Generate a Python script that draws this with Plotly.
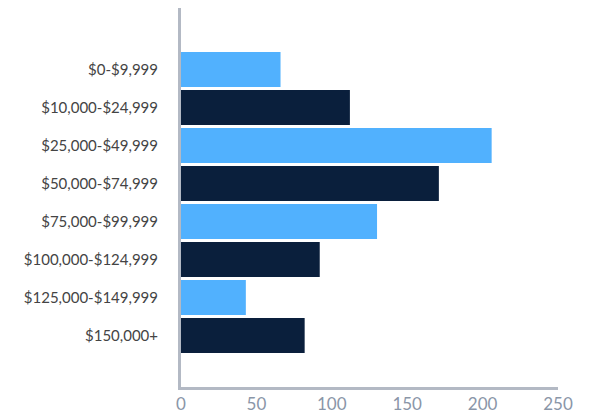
import plotly.graph_objects as go

# Household income brackets and counts
brackets = [
    "$0-$9,999",
    "$10,000-$24,999",
    "$25,000-$49,999",
    "$50,000-$74,999",
    "$75,000-$99,999",
    "$100,000-$124,999",
    "$125,000-$149,999",
    "$150,000+",
]
counts = [66, 112, 206, 171, 130, 92, 43, 82]
x_ticks = [0, 50, 100, 150, 200, 250]

light_blue = "#51b1fe"
navy = "#0a1f3c"
bar_colors = [light_blue if i % 2 == 0 else navy for i in range(len(brackets))]

fig = go.Figure(
    go.Bar(
        x=counts,
        y=brackets,
        orientation="h",
        marker=dict(color=bar_colors, line=dict(width=0)),
        hoverinfo="x+y",
    )
)

fig.update_layout(
    width=599,
    height=415,
    margin=dict(l=181, r=41, t=8, b=28),
    paper_bgcolor="white",
    plot_bgcolor="white",
    bargap=0.08,
    showlegend=False,
    font=dict(family="Lato, sans-serif"),
)

fig.update_xaxes(
    range=[0, 250],
    tickvals=x_ticks,
    showgrid=False,
    zeroline=False,
    showline=True,
    linecolor="#b3b9c4",
    linewidth=3,
    ticks="",
    tickfont=dict(size=17, color="#8a96a8"),
    automargin=False,
)

fig.update_yaxes(
    type="category",
    categoryorder="array",
    categoryarray=brackets,
    range=[8.355, -1.62],
    showgrid=False,
    zeroline=False,
    showline=True,
    linecolor="#b3b9c4",
    linewidth=3,
    ticks="",
    ticklabelstandoff=17,
    tickfont=dict(size=15, color="#444444"),
    automargin=False,
)

fig.write_html("out.html")
